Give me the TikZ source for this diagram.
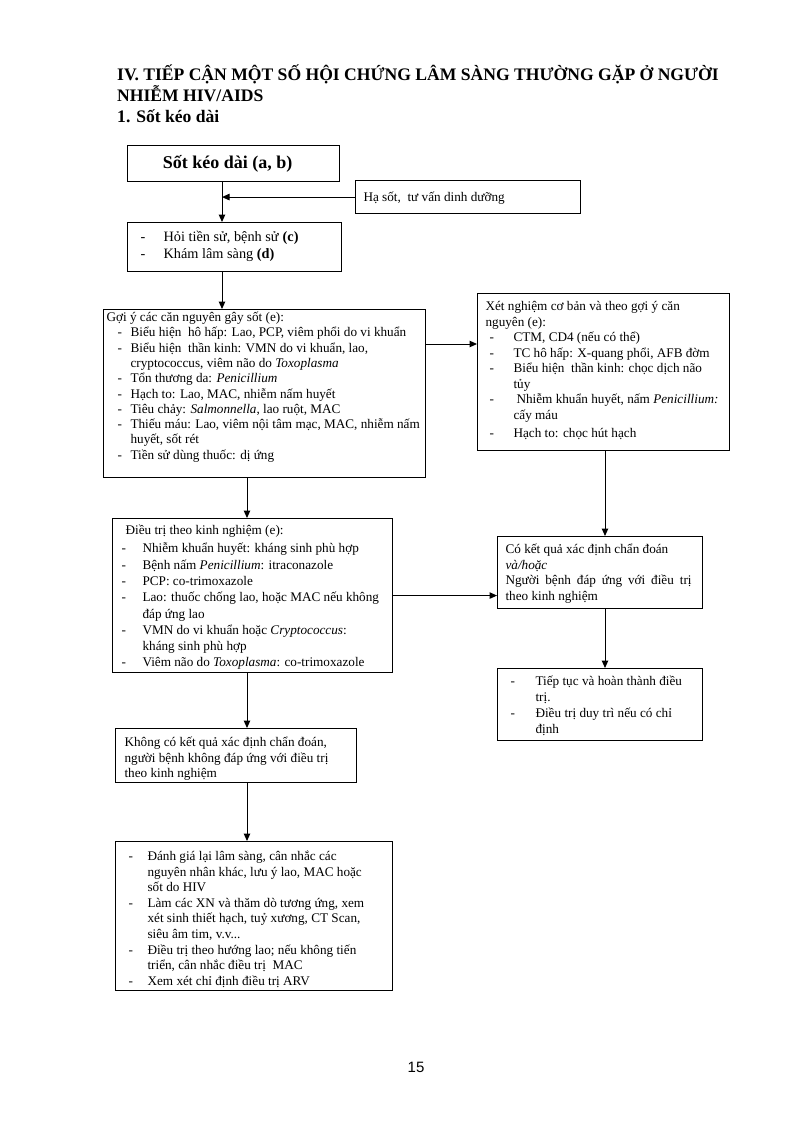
\documentclass[tikz,border=0pt]{standalone}
\usepackage{fontspec}
\setmainfont{Liberation Serif}
\newfontfamily\pnfont{Liberation Sans}
\usetikzlibrary{arrows.meta}
\newcommand\bxc[5]{\vbox to #2pt{\hrule height0pt depth0pt width#1pt\relax\vskip#3pt\relax\baselineskip=#4pt\relax\lineskip=0pt\relax\lineskiplimit=-20pt\relax #5\vfil}}
\newcommand\txl[2]{\hbox{\hskip#1pt\rule{0pt}{12pt}#2}}
\newcommand\dsl[3]{\hbox{\hskip#1pt\rule{0pt}{12pt}\hbox to \dimexpr#2pt-#1pt\relax{-\hfil}#3}}
\begin{document}
\begin{tikzpicture}[x=1pt,y=-1pt,
  box/.style={draw, line width=1.1pt, inner sep=0pt, anchor=north west, font=\fontsize{13.2}{15}\selectfont},
  ttl/.style={inner sep=0pt, anchor=base west, font=\fontsize{17.6}{20}\selectfont\bfseries},
  arr/.style={-{Triangle[length=7.5pt,width=6.5pt]}, line width=1pt}]
\fill[white] (0,0) rectangle (794,1124);
\useasboundingbox (0,0) rectangle (794,1124);

\node[ttl] (t1) at (117,81) {IV. TIẾP CẬN MỘT SỐ HỘI CHỨNG LÂM SÀNG THƯỜNG GẶP Ở NGƯỜI};
\node[ttl] (t2) at (117,101.5) {NHIỄM HIV/AIDS};
\node[ttl] (t3) at (117,122) {1. Sốt kéo dài};

\node[box, minimum width=212pt, minimum height=36pt, font=\fontsize{18}{20}\selectfont\bfseries] (sot) at (127,145) {Sốt kéo dài (a, b)\hspace*{12pt}};

\node[box] (hasot) at (355,180) {\bxc{225}{33}{9}{15}{\txl{8}{Hạ sốt,\ \ tư vấn dinh dưỡng}}};

\node[box, font=\fontsize{14.3}{17}\selectfont] (hoi) at (127,222) {\bxc{214}{49}{7}{17}{%
\dsl{13}{36}{Hỏi tiền sử, bệnh sử \textbf{(c)}}%
\dsl{13}{36}{Khám lâm sàng \textbf{(d)}}}};

\node[box] (goiy) at (103,309) {\bxc{322}{168}{0}{15.3}{%
\txl{3}{Gợi ý các căn nguyên gây sốt (e):}%
\dsl{14}{27}{Biểu hiện\ \ hô hấp: Lao, PCP, viêm phổi do vi khuẩn}%
\dsl{14}{27}{Biểu hiện\ \ thần kinh: VMN do vi khuẩn, lao,}%
\txl{27}{cryptococcus, viêm não do \textit{Toxoplasma}}%
\dsl{14}{27}{Tổn thương da: \textit{Penicillium}}%
\dsl{14}{27}{Hạch to: Lao, MAC, nhiễm nấm huyết}%
\dsl{14}{27}{Tiêu chảy: \textit{Salmonnella}, lao ruột, MAC}%
\dsl{14}{27}{Thiếu máu: Lao, viêm nội tâm mạc, MAC, nhiễm nấm}%
\txl{27}{huyết, sốt rét}%
\dsl{14}{27}{Tiền sử dùng thuốc: dị ứng}}};

\node[box] (xn) at (477,293) {\bxc{252}{157}{5}{15.5}{%
\txl{8}{Xét nghiệm cơ bản và theo gợi ý căn}%
\txl{8}{nguyên (e):}%
\dsl{12}{36}{CTM, CD4 (nếu có thể)}%
\dsl{12}{36}{TC hô hấp: X-quang phổi, AFB đờm}%
\dsl{12}{36}{Biểu hiện\ \ thần kinh: chọc dịch não}%
\txl{36}{tủy}%
\dsl{12}{39}{Nhiễm khuẩn huyết, nấm \textit{Penicillium:}}%
\txl{36}{cấy máu}%
\vskip3pt
\dsl{12}{36}{Hạch to: chọc hút hạch}}};

\node[box] (dt) at (112,518) {\bxc{280}{154}{4}{16.3}{%
\txl{13}{Điều trị theo kinh nghiệm (e):}%
\vskip2pt
\dsl{9}{30}{Nhiễm khuẩn huyết: kháng sinh phù hợp}%
\dsl{9}{30}{Bệnh nấm \textit{Penicillium}: itraconazole}%
\dsl{9}{30}{PCP: co-trimoxazole}%
\dsl{9}{30}{Lao: thuốc chống lao, hoặc MAC nếu không}%
\txl{30}{đáp ứng lao}%
\dsl{9}{30}{VMN do vi khuẩn hoặc \textit{Cryptococcus}:}%
\txl{30}{kháng sinh phù hợp}%
\dsl{9}{30}{Viêm não do \textit{Toxoplasma}: co-trimoxazole}}};

\node[box] (kq) at (497,536) {\bxc{205}{72}{5}{15.6}{%
\txl{8}{Có kết quả xác định chẩn đoán}%
\txl{8}{\textit{và/hoặc}}%
\txl{8}{\makebox[186pt][s]{Người bệnh đáp ứng với điều trị}}%
\txl{8}{theo kinh nghiệm}}};

\node[box] (tt) at (497,668) {\bxc{205}{72}{5}{16}{%
\dsl{13}{38}{Tiếp tục và hoàn thành điều}%
\txl{38}{trị.}%
\dsl{13}{38}{Điều trị duy trì nếu có chỉ}%
\txl{38}{định}}};

\node[box] (kokq) at (115,728) {\bxc{241}{54}{6}{15.5}{%
\txl{9}{Không có kết quả xác định chẩn đoán,}%
\txl{9}{người bệnh không đáp ứng với điều trị}%
\txl{9}{theo kinh nghiệm}}};

\node[box] (dg) at (115,841) {\bxc{277}{149}{7}{15.6}{%
\dsl{13}{32}{Đánh giá lại lâm sàng, cân nhắc các}%
\txl{32}{nguyên nhân khác, lưu ý lao, MAC hoặc}%
\txl{32}{sốt do HIV}%
\dsl{13}{32}{Làm các XN và thăm dò tương ứng, xem}%
\txl{32}{xét sinh thiết hạch, tuỷ xương, CT Scan,}%
\txl{32}{siêu âm tim, v.v...}%
\dsl{13}{32}{Điều trị theo hướng lao; nếu không tiến}%
\txl{32}{triển, cân nhắc điều trị\ \ MAC}%
\dsl{13}{32}{Xem xét chỉ định điều trị ARV}}};

\node[inner sep=0pt, font=\pnfont\fontsize{15}{18}\selectfont] (pg) at (416,1067) {15};

\coordinate (xa) at (222,0);
\coordinate (xb) at (247,0);
\coordinate (xc) at (605,0);
\coordinate (ya) at (0,344);

\draw[arr] (sot.south -| xa) -- (hoi.north -| xa);
\draw[arr] (hasot.west) -- (hasot.west -| xa);
\draw[arr] (hoi.south -| xa) -- (goiy.north -| xa);
\draw[arr] (goiy.east |- ya) -- (xn.west |- ya);
\draw[arr] (goiy.south -| xb) -- (dt.north -| xb);
\draw[arr] (xn.south -| xc) -- (kq.north -| xc);
\draw[arr] (dt.east) -- (dt.east -| kq.west);
\draw[arr] (kq.south -| xc) -- (tt.north -| xc);
\draw[arr] (dt.south -| xb) -- (kokq.north -| xb);
\draw[arr] (kokq.south -| xb) -- (dg.north -| xb);
\end{tikzpicture}
\end{document}
